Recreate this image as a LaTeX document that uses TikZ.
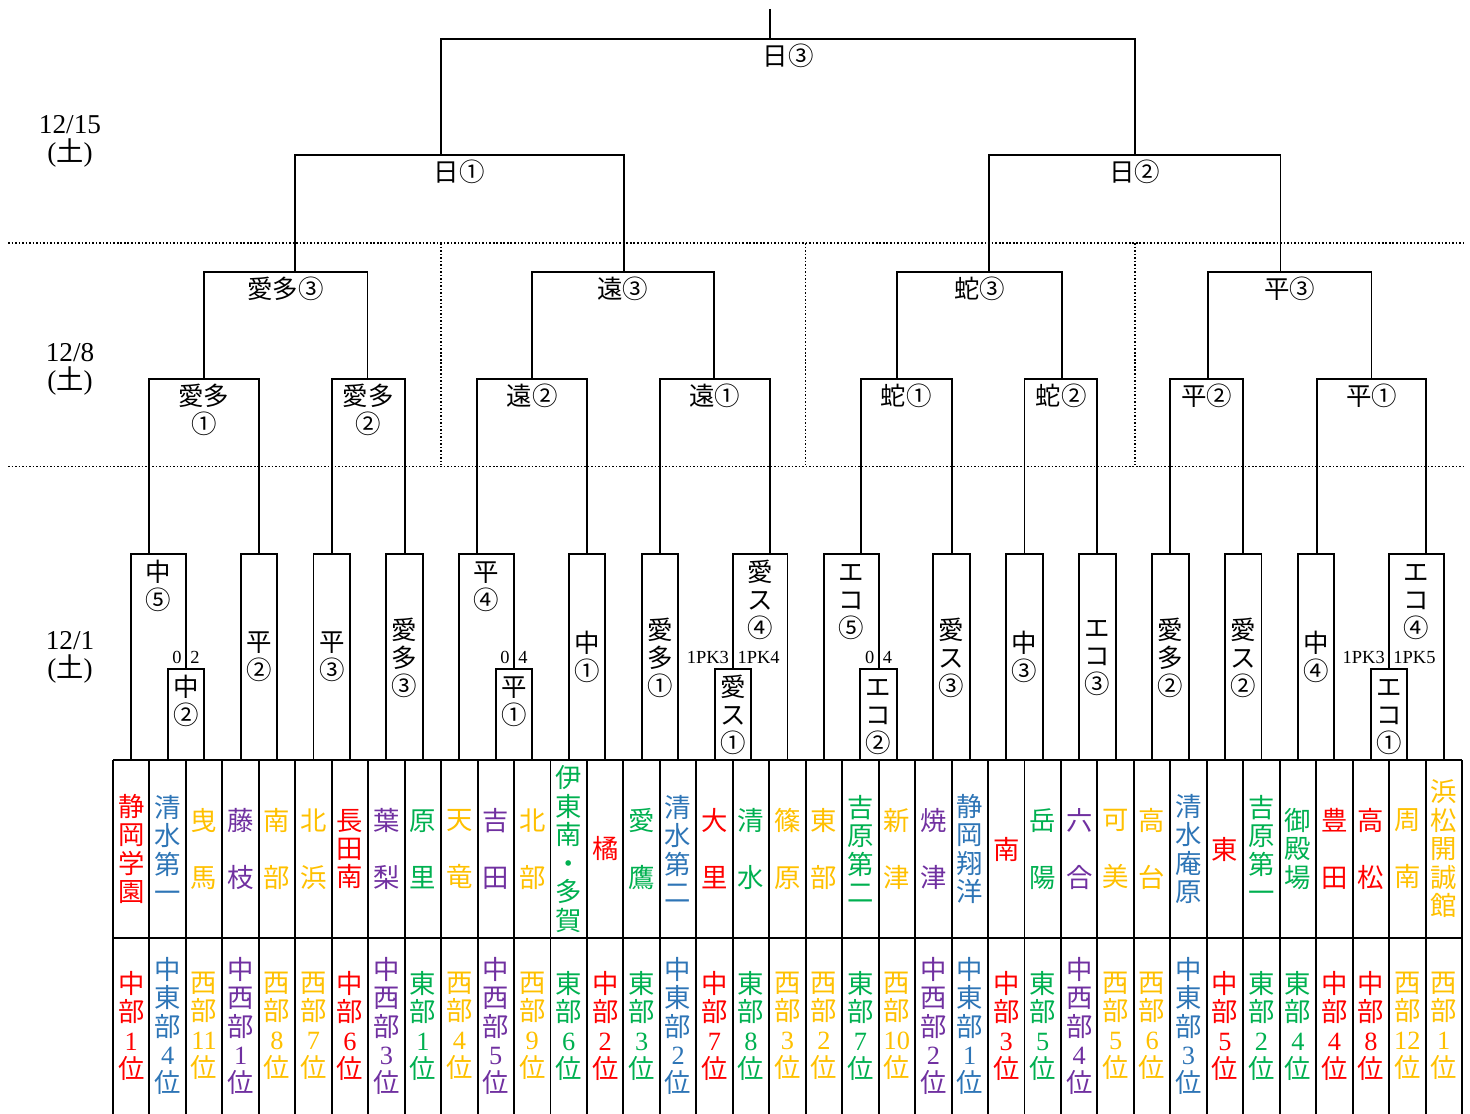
\documentclass[tikz,border=0pt]{standalone}
\usepackage{fontspec}
\setmainfont{Liberation Serif}
\newfontfamily\jp{Noto Sans CJK JP}
\usepackage{tikz}
\definecolor{chubu}{HTML}{FF0000}
\definecolor{chuto}{HTML}{2E75B6}
\definecolor{seibu}{HTML}{FFC000}
\definecolor{chusei}{HTML}{7030A0}
\definecolor{tobu}{HTML}{00B050}
\newcommand{\jplab}{\jp\fontsize{14.5pt}{15.9pt}\selectfont}
\newcommand{\jpteam}{\jp\fontsize{15pt}{16.2pt}\selectfont}
% one bracket: left x, left end, right x, top, right end
\newcommand{\bkt}[5]{\draw [bline] (#1,#2) |- (#3,#4) -- (#3,#5);}
\tikzset{
  bline/.style={line width=1.1pt},
  tline/.style={line width=1.1pt},
  sep/.style={line width=0.9pt,dash pattern=on 0.9pt off 1.1pt},
  lab/.style={font=\jplab,align=center,inner sep=0pt,anchor=north},
  labc/.style={font=\jplab,align=center,inner sep=0pt},
  team/.style={font=\jpteam,align=center,inner sep=0pt},
  score/.style={font=\fontsize{10.5pt}{12pt}\selectfont,inner sep=0pt},
  day/.style={font=\fontsize{15.5pt}{16pt}\selectfont,align=center,inner sep=0pt}
}

\begin{document}
\begin{tikzpicture}[x=0.02cm,y=-0.02cm]
    \useasboundingbox (0,0) rectangle (1470,1114);
    %day separators
    \draw [sep] (8,243) -- (1463,243);
    \draw [sep] (8,466.7) -- (1463,466.7);
    \foreach \x in {441,805.5,1134.7} \draw [sep] (\x,243) -- (\x,465);
    \node [day] (d15) at (70,141) {12/15\\({\jp 土})};
    \node [day] (d8) at (70,369) {12/8\\({\jp 土})};
    \node [day] (d1) at (70,657) {12/1\\({\jp 土})};

    %final and semi finals
    \draw [bline] (770,9) -- (770,39);
    \bkt{441}{155}{1134.7}{39}{155}
    \node [lab] (hi3) at (788,44) {\vphantom{愛}日③};
    \bkt{294.8}{272}{623.6}{155}{272}
    \node [lab] (hi1) at (459.2,160) {\vphantom{愛}日①};
    \bkt{989}{272}{1280.5}{155}{272}
    \node [lab] (hi2) at (1134.75,160) {\vphantom{愛}日②};

    %12/8
    \bkt{203.8}{379}{367.5}{272}{379}
    \node [lab] (ait3) at (285.65,277) {\vphantom{愛}愛多③};
    \bkt{531.6}{379}{714.2}{272}{379}
    \node [lab] (en3) at (622.9,277) {\vphantom{愛}遠③};
    \bkt{897}{379}{1062}{272}{379}
    \node [lab] (ja3) at (979.5,277) {\vphantom{愛}蛇③};
    \bkt{1207.8}{379}{1371.5}{272}{379}
    \node [lab] (hr3) at (1289.65,277) {\vphantom{愛}平③};
    \bkt{149}{554}{258.8}{379}{554}
    \node [lab] (ait1) at (203.9,384) {\vphantom{愛}愛多\\①};
    \bkt{332}{554}{404.7}{379}{554}
    \node [lab] (ait2) at (368.35,384) {\vphantom{愛}愛多\\②};
    \bkt{477.4}{554}{587}{379}{554}
    \node [lab] (en2) at (532.2,384) {\vphantom{愛}遠②};
    \bkt{659.9}{554}{770}{379}{554}
    \node [lab] (en1) at (714.95,384) {\vphantom{愛}遠①};
    \bkt{860.7}{554}{951.6}{379}{554}
    \node [lab] (ja1) at (906.15,384) {\vphantom{愛}蛇①};
    \bkt{1024.5}{554}{1097.4}{379}{554}
    \node [lab] (ja2) at (1061,384) {\vphantom{愛}蛇②};
    \bkt{1170.3}{554}{1243.2}{379}{554}
    \node [lab] (hr2) at (1206.75,384) {\vphantom{愛}平②};
    \bkt{1317.3}{554}{1426.2}{379}{554}
    \node [lab] (hr1) at (1371.75,384) {\vphantom{愛}平①};

    %12/1
    \bkt{131.23}{760}{185.92}{554}{669}
    \node [lab] (g1) at (158.6,560) {\vphantom{愛}中\\⑤};
    \bkt{240.61}{760}{277.07}{554}{760}
    \node [labc] (g2) at (258.84,657) {平\\②};
    \bkt{313.52}{760}{349.98}{554}{760}
    \node [labc] (g3) at (331.75,657) {平\\③};
    \bkt{386.44}{760}{422.90}{554}{760}
    \node [labc] (g4) at (404.67,658) {愛\\多\\③};
    \bkt{459.36}{760}{514.05}{554}{669}
    \node [lab] (g5) at (486.7,560) {\vphantom{愛}平\\④};
    \bkt{568.74}{760}{605.20}{554}{760}
    \node [labc] (g6) at (586.97,657) {中\\①};
    \bkt{641.66}{760}{678.12}{554}{760}
    \node [labc] (g7) at (659.89,658) {愛\\多\\①};
    \bkt{732.81}{669}{787.50}{554}{760}
    \node [lab] (g8) at (760.2,560) {\vphantom{愛}愛\\ス\\④};
    \bkt{823.95}{760}{878.64}{554}{669}
    \node [lab] (g9) at (851.3,560) {\vphantom{愛}エ\\コ\\⑤};
    \bkt{933.33}{760}{969.79}{554}{760}
    \node [labc] (g10) at (951.56,658) {愛\\ス\\③};
    \bkt{1006.25}{760}{1042.71}{554}{760}
    \node [labc] (g11) at (1024.48,657) {中\\③};
    \bkt{1079.17}{760}{1115.63}{554}{760}
    \node [labc] (g12) at (1097.4,658) {エ\\コ\\③};
    \bkt{1152.09}{760}{1188.55}{554}{760}
    \node [labc] (g13) at (1170.32,658) {愛\\多\\②};
    \bkt{1225.01}{760}{1261.47}{554}{760}
    \node [labc] (g14) at (1243.24,658) {愛\\ス\\②};
    \bkt{1297.93}{760}{1334.38}{554}{760}
    \node [labc] (g15) at (1316.16,657) {中\\④};
    \bkt{1389.07}{669}{1443.76}{554}{760}
    \node [lab] (g16) at (1416.4,560) {\vphantom{愛}エ\\コ\\④};
    %play-in games
    \bkt{167.69}{760}{204.15}{669}{760}
    \node [lab] (p1) at (185.92,675) {\vphantom{愛}中\\②};
    \bkt{495.82}{760}{532.28}{669}{760}
    \node [lab] (p2) at (514.05,675) {\vphantom{愛}平\\①};
    \bkt{714.58}{760}{751.04}{669}{760}
    \node [lab] (p3) at (732.81,675) {\vphantom{愛}愛\\ス\\①};
    \bkt{860.41}{760}{896.87}{669}{760}
    \node [lab] (p4) at (878.64,675) {\vphantom{愛}エ\\コ\\②};
    \bkt{1370.84}{760}{1407.30}{669}{760}
    \node [lab] (p5) at (1389.07,675) {\vphantom{愛}エ\\コ\\①};
    \node [score,anchor=base east] (s1a) at (181.9,663) {0};
    \node [score,anchor=base west] (s1b) at (189.9,663) {2};
    \node [score,anchor=base east] (s2a) at (510,663) {0};
    \node [score,anchor=base west] (s2b) at (518,663) {4};
    \node [score,anchor=base east] (s3a) at (729.3,663) {1PK3};
    \node [score,anchor=base west] (s3b) at (737.3,663) {1PK4};
    \node [score,anchor=base east] (s4a) at (874.6,663) {0};
    \node [score,anchor=base west] (s4b) at (882.6,663) {4};
    \node [score,anchor=base east] (s5a) at (1385.1,663) {1PK3};
    \node [score,anchor=base west] (s5b) at (1393.1,663) {1PK5};

    %school table
    \draw [tline] (113,760) -- (1462,760);
    \draw [tline] (113,938) -- (1462,938);
    \foreach \k in {0,...,37} \draw [tline] ({113+36.459*\k},760) -- ({113+36.459*\k},1114);
    \foreach \nm/\rg/\rk/\cl [count=\i from 0] in {
      {静\\岡\\学\\園}/{中\\部}/1/chubu, {清\\水\\第\\一}/{中\\東\\部}/4/chuto,
      {曳\\[16.2pt]馬}/{西\\部}/11/seibu, {藤\\[16.2pt]枝}/{中\\西\\部}/1/chusei,
      {南\\[16.2pt]部}/{西\\部}/8/seibu, {北\\[16.2pt]浜}/{西\\部}/7/seibu,
      {長\\田\\南}/{中\\部}/6/chubu, {葉\\[16.2pt]梨}/{中\\西\\部}/3/chusei,
      {原\\[16.2pt]里}/{東\\部}/1/tobu, {天\\[16.2pt]竜}/{西\\部}/4/seibu,
      {吉\\[16.2pt]田}/{中\\西\\部}/5/chusei, {北\\[16.2pt]部}/{西\\部}/9/seibu,
      {伊\\東\\南\\・\\多\\賀}/{東\\部}/6/tobu, {橘}/{中\\部}/2/chubu,
      {愛\\[16.2pt]鷹}/{東\\部}/3/tobu, {清\\水\\第\\二}/{中\\東\\部}/2/chuto,
      {大\\[16.2pt]里}/{中\\部}/7/chubu, {清\\[16.2pt]水}/{東\\部}/8/tobu,
      {篠\\[16.2pt]原}/{西\\部}/3/seibu, {東\\[16.2pt]部}/{西\\部}/2/seibu,
      {吉\\原\\第\\二}/{東\\部}/7/tobu, {新\\[16.2pt]津}/{西\\部}/10/seibu,
      {焼\\[16.2pt]津}/{中\\西\\部}/2/chusei, {静\\岡\\翔\\洋}/{中\\東\\部}/1/chuto,
      {南}/{中\\部}/3/chubu, {岳\\[16.2pt]陽}/{東\\部}/5/tobu,
      {六\\[16.2pt]合}/{中\\西\\部}/4/chusei, {可\\[16.2pt]美}/{西\\部}/5/seibu,
      {高\\[16.2pt]台}/{西\\部}/6/seibu, {清\\水\\庵\\原}/{中\\東\\部}/3/chuto,
      {東}/{中\\部}/5/chubu, {吉\\原\\第\\一}/{東\\部}/2/tobu,
      {御\\殿\\場}/{東\\部}/4/tobu, {豊\\[16.2pt]田}/{中\\部}/4/chubu,
      {高\\[16.2pt]松}/{中\\部}/8/chubu, {周\\[16.2pt]南}/{西\\部}/12/seibu,
      {浜\\松\\開\\誠\\館}/{西\\部}/1/seibu} {
      \node [team,text=\cl] (t\i) at ({113+36.459*(\i+0.5)},849) {\nm};
      \node [team,text=\cl] (r\i) at ({113+36.459*(\i+0.5)},1026) {\rg\\{\rmfamily\rk}\\位};
    }
\end{tikzpicture}
\end{document}
